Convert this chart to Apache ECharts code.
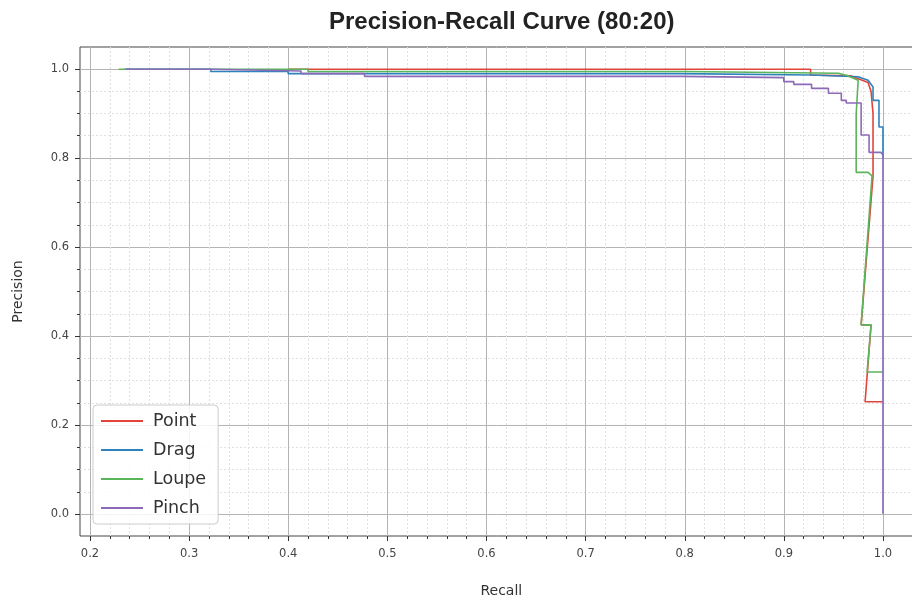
<!DOCTYPE html>
<html>
<head>
<meta charset="utf-8">
<script src="https://cdn.jsdelivr.net/npm/echarts@6/dist/echarts.min.js"></script>
<style>
  html, body { margin: 0; padding: 0; background: #fff; }
  #chart { width: 912px; height: 602px; }
</style>
</head>
<body>
<div id="chart"></div>
<script>
// PR curves, pairs of [recall, precision]
const pointPR = [
    [0.40, 1.0], [0.927, 1.0], [0.927, 0.987], [0.968, 0.985], [0.985, 0.97],
    [0.988, 0.95], [0.990, 0.90], [0.990, 0.76], [0.978, 0.425], [0.988, 0.425],
    [0.982, 0.252], [1.0, 0.252]
];
const dragPR = [
    [0.235, 1.0], [0.322, 1.0], [0.322, 0.995], [0.40, 0.995], [0.40, 0.99],
    [0.796, 0.99], [0.796, 0.987], [0.927, 0.987], [0.927, 0.984], [0.975, 0.983],
    [0.985, 0.975], [0.99, 0.96], [0.99, 0.93], [0.996, 0.93], [0.996, 0.87],
    [1.0, 0.87], [1.0, 0.80]
];
const loupePR = [
    [0.229, 1.0], [0.42, 1.0], [0.42, 0.995], [0.80, 0.995], [0.80, 0.991],
    [0.955, 0.991], [0.965, 0.985], [0.975, 0.975], [0.973, 0.90], [0.973, 0.768],
    [0.985, 0.768], [0.989, 0.76], [0.978, 0.425], [0.988, 0.425], [0.984, 0.319],
    [1.0, 0.319]
];
const pinchPR = [
    [0.236, 1.0], [0.322, 1.0], [0.322, 0.996], [0.413, 0.996], [0.413, 0.99],
    [0.477, 0.99], [0.477, 0.984], [0.796, 0.984], [0.796, 0.981], [0.90, 0.981],
    [0.90, 0.972], [0.910, 0.972], [0.910, 0.966], [0.928, 0.966], [0.928, 0.957],
    [0.945, 0.957], [0.945, 0.946], [0.958, 0.946], [0.958, 0.93], [0.963, 0.93],
    [0.963, 0.924], [0.978, 0.924], [0.978, 0.852], [0.986, 0.852], [0.986, 0.813],
    [0.998, 0.813], [1.0, 0.807], [1.0, 0.0]
];
const seriesNames = ['Point', 'Drag', 'Loupe', 'Pinch'];
const xTickValues = [0.2, 0.3, 0.4, 0.5, 0.6, 0.7, 0.8, 0.9, 1.0];
const yTickValues = [0.0, 0.2, 0.4, 0.6, 0.8, 1.0];

const colors = ['#e0443a', '#2f83bd', '#5bb55b', '#8d6ab8'];
const seriesData = [pointPR, dragPR, loupePR, pinchPR];

const MAJ = '#b4b4b4';
const MIN = '#e0e0e0';
const labelFont = {fontFamily: 'DejaVu Sans', fontSize: 11.5, color: '#444'};
const nameFont = {fontFamily: 'DejaVu Sans', fontSize: 14, color: '#333'};
const hidden = {show: false};

const chart = echarts.init(document.getElementById('chart'));

// the tick/grid axes only span the ticked range, the data axes span the padded frame
const tickAxis = (gridIndex, ticks, step, minorSplit, margin) => ({
    type: 'value',
    gridIndex: gridIndex,
    min: ticks[0],
    max: ticks[ticks.length - 1],
    interval: step,
    axisLine: hidden,
    axisTick: {show: true, length: 5, lineStyle: {color: '#333'}},
    minorTick: {show: true, splitNumber: minorSplit, length: 3, lineStyle: {color: '#333'}},
    axisLabel: Object.assign({margin: margin, formatter: v => v.toFixed(1)}, labelFont),
    splitLine: {show: true, lineStyle: {color: MAJ, width: 1}},
    minorSplitLine: {show: true, lineStyle: {color: MIN, width: 1, type: [2, 2]}}
});

chart.setOption({
    animation: false,
    backgroundColor: '#fff',
    title: {
        text: 'Precision-Recall Curve (80:20)',
        left: 324,
        top: 5,
        textStyle: {fontFamily: 'Liberation Sans', fontWeight: 'bold', fontSize: 24, color: '#222'}
    },
    legend: {
        data: seriesNames,
        orient: 'vertical',
        left: 93,
        top: 405,
        icon: 'rect',
        itemWidth: 42,
        itemHeight: 2,
        itemGap: 9,
        padding: [6, 12, 6, 8],
        backgroundColor: 'rgba(255,255,255,0.85)',
        borderColor: '#cccccc',
        borderWidth: 1,
        borderRadius: 4,
        textStyle: {fontFamily: 'DejaVu Sans', fontSize: 17.5, color: '#333', lineHeight: 20, padding: [0, 0, 0, 5]}
    },
    grid: [
        // full frame, x 0.19 .. 1.04 (right edge falls off the canvas), y -0.05 .. 1.05
        {left: 80, top: 47, width: 842.6, height: 489, show: true, borderColor: '#444', borderWidth: 1, outerBoundsMode: 'none'},
        // x span 0.2 .. 1.0, full height
        {left: 90, top: 47, width: 793, height: 489, outerBoundsMode: 'none'},
        // y span 0 .. 1, full width
        {left: 80, top: 69, width: 842.6, height: 445, outerBoundsMode: 'none'}
    ],
    xAxis: [
        {
            type: 'value', gridIndex: 0, min: 0.19, max: 1.04,
            axisLine: hidden, axisTick: hidden, axisLabel: hidden, splitLine: hidden,
            name: 'Recall', nameLocation: 'middle', nameGap: 48, nameTextStyle: nameFont
        },
        tickAxis(1, xTickValues, 0.1, 5, 12),
        {type: 'value', gridIndex: 2, show: false, min: 0, max: 1}
    ],
    yAxis: [
        {
            type: 'value', gridIndex: 0, min: -0.05, max: 1.05,
            axisLine: hidden, axisTick: hidden, axisLabel: hidden, splitLine: hidden,
            name: 'Precision', nameLocation: 'middle', nameRotate: 90, nameGap: 55, nameTextStyle: nameFont
        },
        {type: 'value', gridIndex: 1, show: false, min: 0, max: 1},
        tickAxis(2, yTickValues, 0.2, 4, 11)
    ],
    series: seriesNames.map((name, i) => ({
        name: name,
        type: 'line',
        xAxisIndex: 0,
        yAxisIndex: 0,
        data: seriesData[i],
        symbol: 'none',
        itemStyle: {color: colors[i]},
        lineStyle: {color: colors[i], width: 1.6},
        z: 3
    }))
});
</script>
</body>
</html>
